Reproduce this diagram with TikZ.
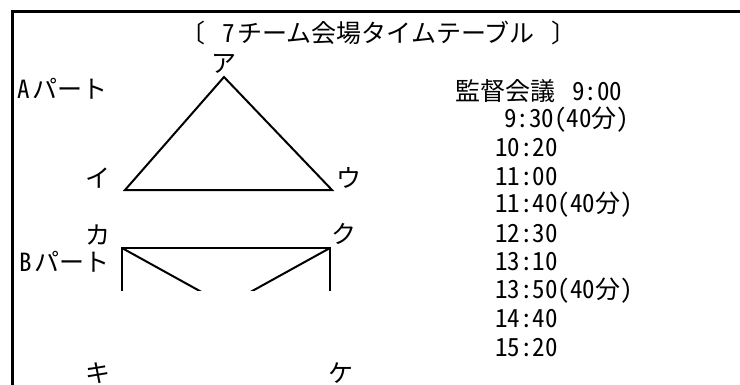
\documentclass[tikz,border=0pt]{standalone}
\usepackage{fontspec}
\newfontfamily\jp[RawFeature={+hwid}]{Noto Sans CJK JP}
\begin{document}
\begin{tikzpicture}[x=1pt,y=-1pt,
  lbl/.style={inner sep=0pt, font=\jp\fontsize{25}{25}\selectfont},
  lw/.style={lbl, anchor=west},
  framel/.style={line width=3pt, line join=miter},
  shp/.style={line width=2pt, line join=miter}]
\useasboundingbox (0,0) rectangle (740,384);
% frame
\coordinate (f0) at (741,11);
\coordinate (f1) at (12,11);
\coordinate (f2) at (12,385);
\draw[framel] (f0) -- (f1) -- (f2);
% title
\node[lw] (title) at (180,33) {〔\hspace{17pt}7\hspace{3pt}チーム会場タイムテーブル\hspace{17pt}〕};
% A part triangle
\coordinate (pa) at (224,77);
\coordinate (pi) at (125,190);
\coordinate (pu) at (332,190);
\draw[shp] (pa) -- (pi) -- (pu) -- cycle;
% B part
\coordinate (ka) at (122,248);
\coordinate (ku) at (330,248);
\coordinate (ki) at (122,363);
\coordinate (ke) at (330,363);
\begin{scope}
\clip (100,235) rectangle (350,290.5);
\draw[shp] (ka) -- (ku) -- (ke) -- (ki) -- cycle;
\draw[shp] (ka) -- (ke);
\draw[shp] (ku) -- (ki);
\end{scope}
% vertex labels
\node[lbl] (la) at (224,64) {ア};
\node[lbl] (li) at (98,178) {イ};
\node[lbl] (lu) at (349,178) {ウ};
\node[lbl] (lka) at (98,235) {カ};
\node[lbl] (lku) at (344,234) {ク};
\node[lbl] (lki) at (98,373) {キ};
\node[lbl] (lke) at (341,373) {ケ};
% part labels
\node[lw] (pA) at (17,89) {A\hspace{3pt}パート};
\node[lw] (pB) at (19,262) {B\hspace{3pt}パート};
% timetable
\node[lw] (t0) at (455,91) {監督会議\hspace{17pt}9:00};
\node[lw] (t1) at (504,119.5) {9:30(40分)};
\node[lw] (t2) at (495,148) {10:20};
\node[lw] (t3) at (495,176.5) {11:00};
\node[lw] (t4) at (495,205) {11:40(40分)};
\node[lw] (t5) at (495,233.5) {12:30};
\node[lw] (t6) at (495,262) {13:10};
\node[lw] (t7) at (495,290.5) {13:50(40分)};
\node[lw] (t8) at (495,319) {14:40};
\node[lw] (t9) at (495,347.5) {15:20};
\end{tikzpicture}
\end{document}
